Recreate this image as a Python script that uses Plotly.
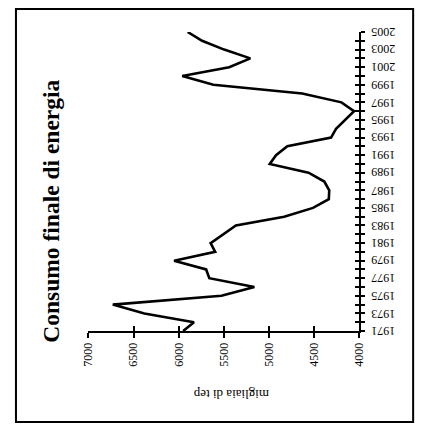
import plotly.graph_objects as go

years = list(range(1971, 2006))
consumo = [5950, 5830, 6380, 6730, 5525, 5160, 5660, 5695, 6050, 5595,
           5645, 5505, 5365, 4830, 4510, 4335, 4330, 4385, 4560, 4990,
           4920, 4795, 4310, 4255, 4160, 4055, 4195, 4630, 5615, 5960,
           5440, 5205, 5495, 5740, 5900]
value_ticks = [4000, 4500, 5000, 5500, 6000, 6500, 7000]
year_labels = [str(y) for y in range(1971, 2006, 2)]
title_text = "Consumo finale di energia"
axis_title = "migliaia di tep"

# page body has an 8px margin: figure pixel = window pixel - 8
OFF = 8
W, H = 416, 420
SERIF = "Liberation Serif, Times New Roman, serif"


def px(x):
    return (x - OFF) / W


def py(y):
    return 1 - (y - OFF) / H


fig = go.Figure()
fig.add_trace(go.Scatter(x=consumo, y=years, mode="lines",
                         line=dict(color="black", width=2.6),
                         hoverinfo="skip", showlegend=False))
# invisible trace anchoring the overlay axes (used for crossing ticks)
fig.add_trace(go.Scatter(x=[consumo[0]], y=[years[0]], xaxis="x2", yaxis="y2",
                         mode="markers", marker=dict(opacity=0),
                         hoverinfo="skip", showlegend=False))

xdom = [px(84), px(364)]
ydom = [py(331), py(32)]

common_x = dict(range=[7000, 4000], domain=xdom, showgrid=False, zeroline=False,
                tickmode="array", tickvals=value_ticks, ticklen=5, tickwidth=1.5,
                tickcolor="black", fixedrange=True)
common_y = dict(range=[1971, 2005], domain=ydom, showgrid=False, zeroline=False,
                tickmode="linear", tick0=1971, dtick=1, ticklen=4, tickwidth=1.5,
                tickcolor="black", fixedrange=True, showticklabels=False)

annotations = [
    dict(text="<b>" + title_text + "</b>", xref="paper", yref="paper",
         x=px(45), y=py(211), xanchor="center", yanchor="middle",
         textangle=-90, showarrow=False,
         font=dict(family=SERIF, size=23.5, color="black")),
    dict(text=axis_title, xref="paper", yref="paper",
         x=px(232), y=py(395), xanchor="center", yanchor="middle",
         textangle=180, showarrow=False,
         font=dict(family=SERIF, size=13, color="black")),
]
for lab in year_labels:
    annotations.append(dict(text=lab, xref="paper", yref="y",
                            x=px(375), y=int(lab), xanchor="left", yanchor="middle",
                            textangle=180, showarrow=False,
                            font=dict(family=SERIF, size=12, color="black")))

fig.update_layout(
    width=W, height=H,
    margin=dict(l=0, r=0, t=0, b=0),
    paper_bgcolor="white", plot_bgcolor="white",
    xaxis=dict(**common_x, anchor="y", side="bottom", ticks="outside",
               showline=True, linecolor="black", linewidth=2,
               tickangle=-90, tickfont=dict(family=SERIF, size=12, color="black")),
    xaxis2=dict(**common_x, anchor="y", side="bottom", overlaying="x",
                ticks="inside", showline=False, showticklabels=False),
    yaxis=dict(**common_y, anchor="x", side="right", ticks="outside",
               showline=True, linecolor="black", linewidth=2),
    yaxis2=dict(**common_y, anchor="x", side="right", overlaying="y",
                ticks="inside", showline=False),
    showlegend=False,
    shapes=[dict(type="rect", xref="paper", yref="paper",
                 x0=1 / W, x1=px(420), y0=py(422), y1=1 - 1 / H,
                 line=dict(color="black", width=2))],
    annotations=annotations,
)

fig.write_html("out.html")
